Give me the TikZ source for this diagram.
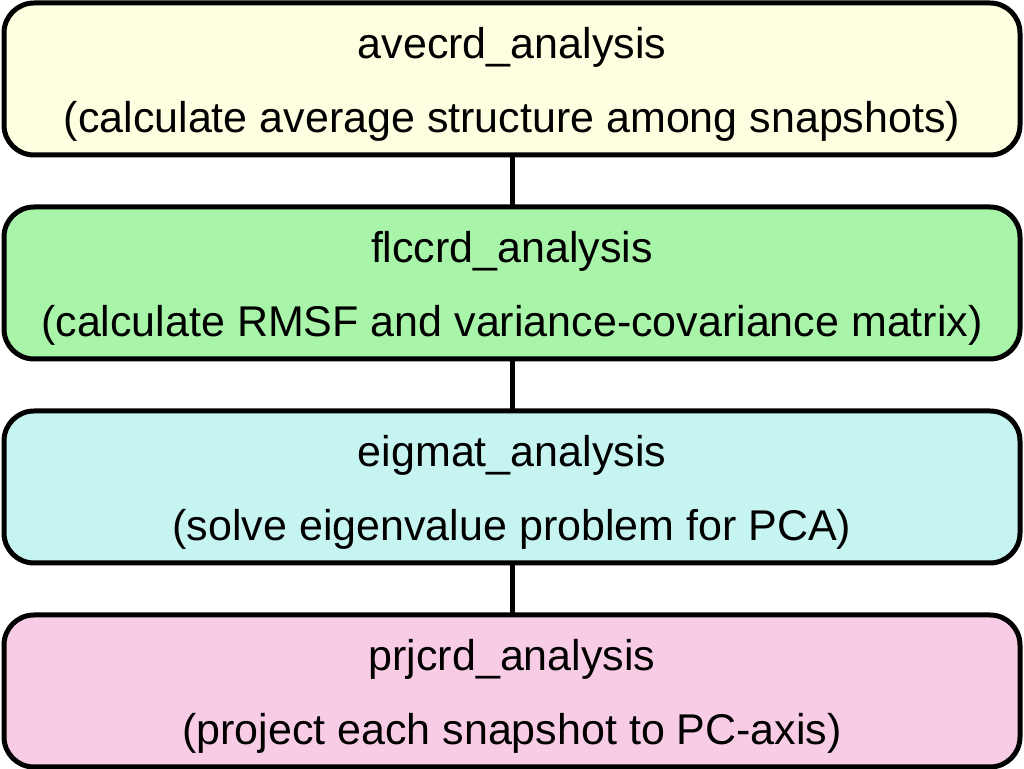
\documentclass[tikz,border=0pt]{standalone}
\usepackage{fontspec}
\setmainfont{Liberation Sans}
\usepackage{xcolor}
\usetikzlibrary{positioning}

\definecolor{aveyellow}{HTML}{FEFEE0}
\definecolor{flcgreen}{HTML}{A8F4A8}
\definecolor{eigcyan}{HTML}{C6F4F0}
\definecolor{prjpink}{HTML}{F8CCE4}

% title line with a little extra room above it
\newcommand{\stagetext}[2]{\rule{0pt}{21pt}#1\\#2}

\begin{document}
\begin{tikzpicture}[
    stage/.style={rectangle, rounded corners=15pt, draw, line width=2.5pt,
        minimum width=508pt, minimum height=76pt, outer sep=0pt,
        align=center, font=\fontsize{21.5}{36.8}\selectfont},
    link/.style={line width=2.5pt},
    node distance=26pt
]
    \useasboundingbox (0,0) rectangle (512pt,-384.5pt);

    \node[stage, fill=aveyellow] (avecrd) at (256pt,-39.5pt)
        {\stagetext{avecrd\_analysis}{(calculate average structure among snapshots)}};
    \node[stage, fill=flcgreen, below=of avecrd] (flccrd)
        {\stagetext{flccrd\_analysis}{(calculate RMSF and variance-covariance matrix)}};
    \node[stage, fill=eigcyan, below=of flccrd] (eigmat)
        {\stagetext{eigmat\_analysis}{(solve eigenvalue problem for PCA)}};
    \node[stage, fill=prjpink, below=of eigmat] (prjcrd)
        {\stagetext{prjcrd\_analysis}{(project each snapshot to PC-axis)}};

    % connectors
    \draw[link] (avecrd) -- (flccrd);
    \draw[link] (flccrd) -- (eigmat);
    \draw[link] (eigmat) -- (prjcrd);
\end{tikzpicture}
\end{document}
